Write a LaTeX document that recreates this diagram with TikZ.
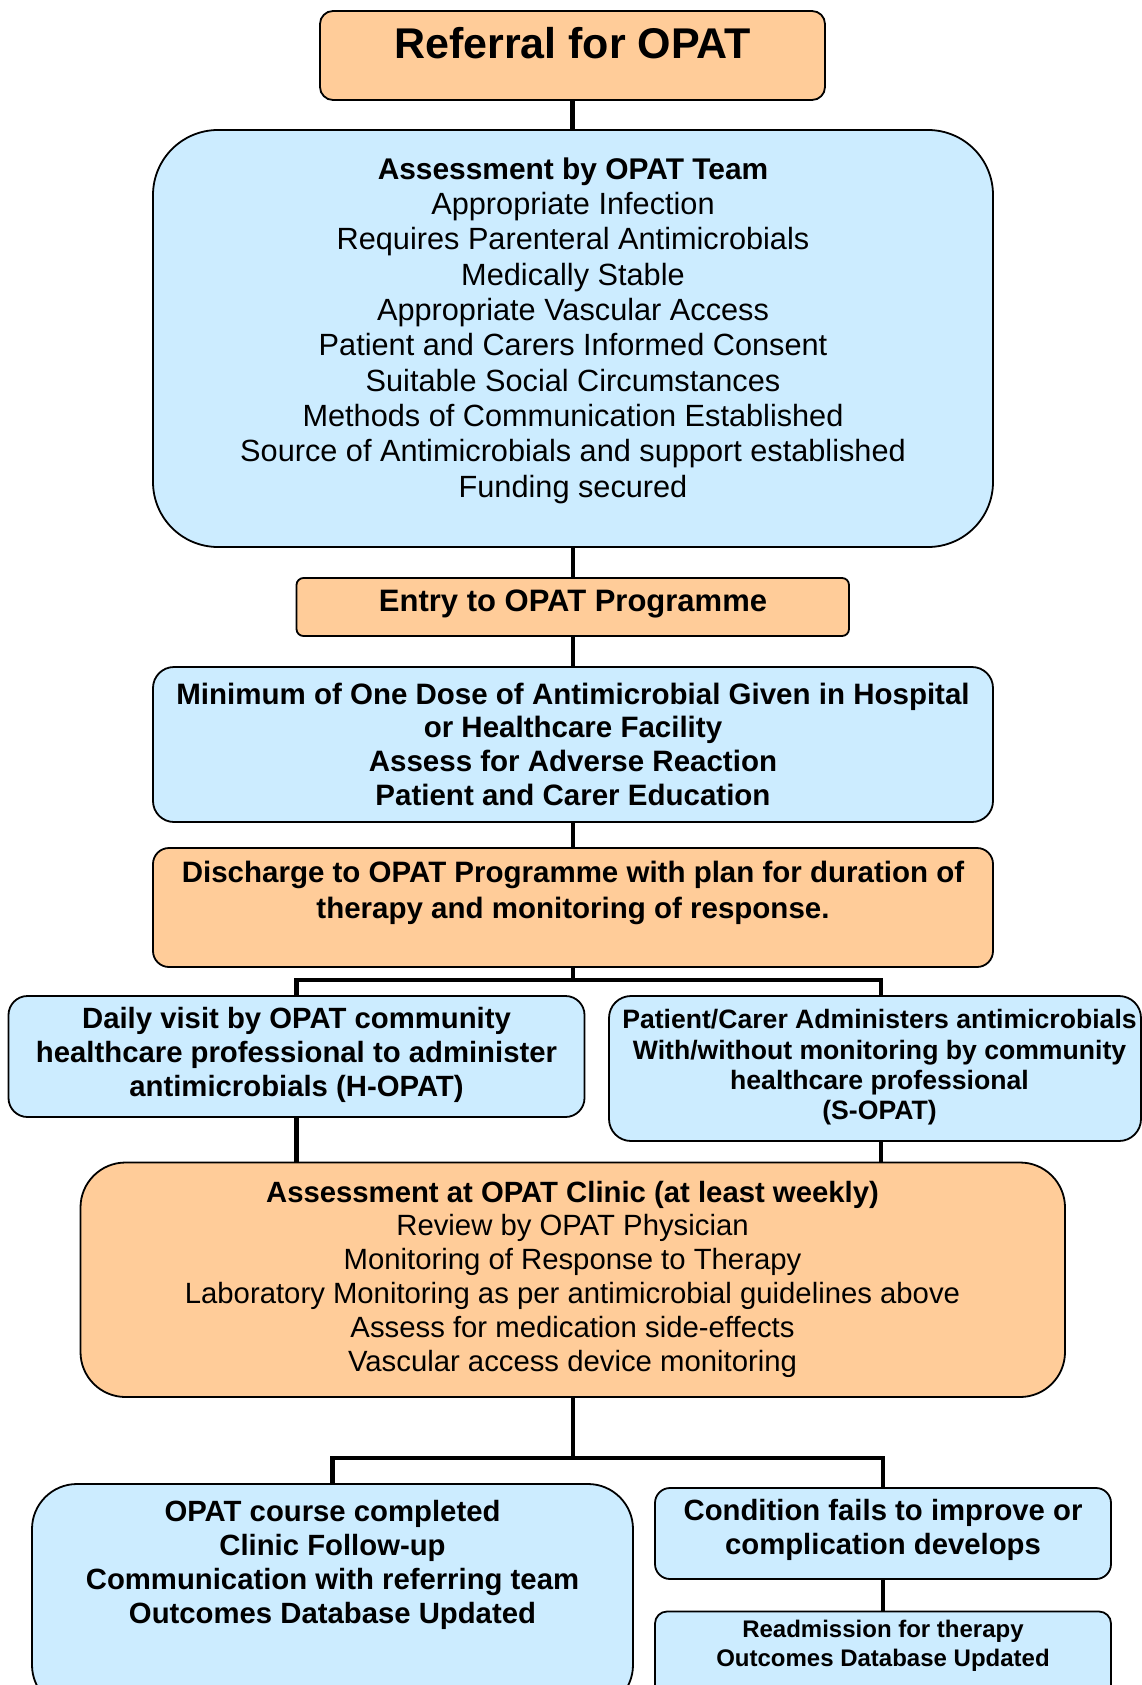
\documentclass[tikz,border=0pt]{standalone}
\usepackage{fontspec}
\setmainfont{Liberation Sans}
\usetikzlibrary{calc,backgrounds}
\definecolor{peach}{HTML}{FFCC99}
\definecolor{skyfill}{HTML}{CCECFF}
\newcommand\setfs[2]{\fontsize{#1}{#2}\selectfont}
\begin{document}
\begin{tikzpicture}[x=1pt,y=-1pt,
  box/.style={draw=black, line width=1.8pt, inner sep=0pt, outer sep=0pt, anchor=north west},
  peachbox/.style={box, fill=peach},
  bluebox/.style={box, fill=skyfill},
  conn/.style={line width=4.5pt, black, line join=miter},
  txt/.style={align=center, inner sep=0pt, anchor=center},
]
\useasboundingbox (0,0) rectangle (1141,1685);

% boxes
\node[peachbox, rounded corners=13pt, minimum width=505pt, minimum height=89pt] (ref) at (320,11) {};
\node[bluebox, rounded corners=65pt, minimum width=840pt, minimum height=417pt] (assess) at (153,130) {};
\node[peachbox, rounded corners=7pt, minimum width=552.5pt, minimum height=58pt] (entry) at (296.5,578) {};
\node[bluebox, rounded corners=21pt, minimum width=840pt, minimum height=155pt] (dose) at (153,667) {};
\node[peachbox, rounded corners=16pt, minimum width=840pt, minimum height=119pt] (disch) at (153,848) {};
\node[bluebox, rounded corners=19pt, minimum width=576pt, minimum height=121pt] (hopat) at (8.5,996) {};
\node[bluebox, rounded corners=22pt, minimum width=532pt, minimum height=145pt] (sopat) at (609,996) {};
\node[peachbox, rounded corners=45pt, minimum width=984.5pt, minimum height=234.5pt] (clinic) at (80.5,1162.5) {};
\node[bluebox, rounded corners=45pt, minimum width=601pt, minimum height=226pt] (done) at (32,1484) {};
\node[bluebox, rounded corners=15pt, minimum width=456pt, minimum height=91pt] (cond) at (655,1488) {};
\node[bluebox, rounded corners=12pt, minimum width=456pt, minimum height=110pt] (readmit) at (655,1611.5) {};

% texts
\node[txt, font={\bfseries\setfs{43}{48}}] (ref-t) at (572.5,43) {Referral for OPAT};
\node[txt, font={\setfs{30.7}{35.3}}] (assess-t) at (573,330.5)
  {{\bfseries\setfs{29.9}{35.3}Assessment by OPAT Team}\\Appropriate Infection\\Requires Parenteral Antimicrobials\\Medically Stable\\Appropriate Vascular Access\\Patient and Carers Informed Consent\\Suitable Social Circumstances\\Methods of Communication Established\\Source of Antimicrobials and support established\\Funding secured};
\node[txt, font={\bfseries\setfs{31}{35}}] (entry-t) at (573,603.5) {Entry to OPAT Programme};
\node[txt, font={\bfseries\setfs{29.5}{33.7}}] (dose-t) at (573,744)
  {Minimum of One Dose of Antimicrobial Given in Hospital\\or Healthcare Facility\\Assess for Adverse Reaction\\Patient and Carer Education};
\node[txt, font={\bfseries\setfs{29.5}{36}}] (disch-t) at (573,893)
  {Discharge to OPAT Programme with plan for duration of\\therapy and monitoring of response.};
\node[txt, font={\bfseries\setfs{29.3}{34.3}}] (hopat-t) at (296.5,1055)
  {Daily visit by OPAT community\\healthcare professional to administer\\antimicrobials (H-OPAT)};
\node[txt, font={\bfseries\setfs{26.6}{30.3}}] (sopat-t) at (879.5,1067.5)
  {Patient/Carer Administers antimicrobials\\With/without monitoring by community\\healthcare professional\\(S-OPAT)};
\node[txt, font={\setfs{29.3}{33.8}}] (clinic-t) at (572.5,1279)
  {\textbf{Assessment at OPAT Clinic (at least weekly)}\\Review by OPAT Physician\\Monitoring of Response to Therapy\\Laboratory Monitoring as per antimicrobial guidelines above\\Assess for medication side-effects\\Vascular access device monitoring};
\node[txt, font={\bfseries\setfs{29.3}{34}}] (done-t) at (332.5,1565)
  {OPAT course completed\\Clinic Follow-up\\Communication with referring team\\Outcomes Database Updated};
\node[txt, font={\bfseries\setfs{29.3}{34.4}}] (cond-t) at (883,1530)
  {Condition fails to improve or\\complication develops};
\node[txt, font={\bfseries\setfs{24}{29}}] (readmit-t) at (883,1645.5)
  {Readmission for therapy\\Outcomes Database Updated};

% connectors
\coordinate (split-a) at (574,980);
\coordinate (split-b) at (573,1458);
\coordinate (sopat-in) at ($(sopat.north)+(6,0)$);
\coordinate (sopat-out) at ($(sopat.south)+(6,0)$);
\begin{scope}[on background layer]
  \fill[white] (0,0) rectangle (1141,1685);
  \draw[conn] (ref.south) -- (ref.south |- assess.north);
  \draw[conn] (assess.south) -- (assess.south |- entry.north);
  \draw[conn] (entry.south) -- (entry.south |- dose.north);
  \draw[conn] (dose.south) -- (dose.south |- disch.north);
  \draw[conn] (disch.south) -- (disch.south |- split-a);
  \draw[conn] (hopat.north) -- (hopat.north |- split-a) -- (sopat-in |- split-a) -- (sopat-in);
  \draw[conn] (hopat.south) -- (hopat.south |- clinic.north);
  \draw[conn] (sopat-out) -- (sopat-out |- clinic.north);
  \draw[conn] (clinic.south) -- (clinic.south |- split-b);
  \draw[conn] (done.north) -- (done.north |- split-b) -- (cond.north |- split-b) -- (cond.north);
  \draw[conn] (cond.south) -- (readmit.north);
\end{scope}
\end{tikzpicture}
\end{document}
